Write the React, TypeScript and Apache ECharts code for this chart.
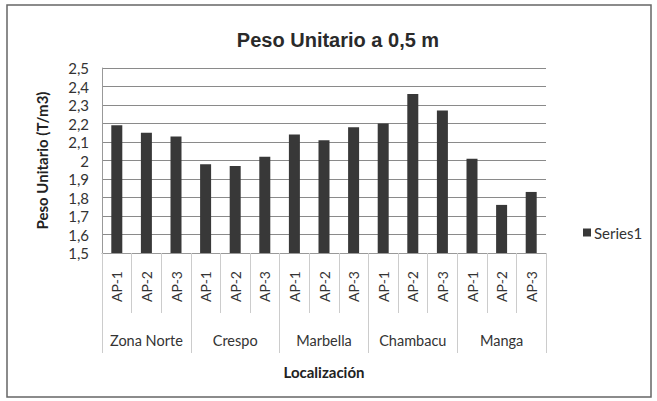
import React, { useEffect, useRef } from "react";
import * as echarts from "echarts";

const points = ["AP-1", "AP-2", "AP-3", "AP-1", "AP-2", "AP-3", "AP-1", "AP-2", "AP-3", "AP-1", "AP-2", "AP-3", "AP-1", "AP-2", "AP-3"];
const groups = ["Zona Norte", "Crespo", "Marbella", "Chambacu", "Manga"];
const values = [2.19, 2.15, 2.13, 1.98, 1.97, 2.02, 2.14, 2.11, 2.18, 2.2, 2.36, 2.27, 2.01, 1.76, 1.83];

const FONT = "Lato, 'Open Sans', sans-serif";

export default function App() {
  const ref = useRef<HTMLDivElement>(null);
  useEffect(() => {
    const chart = echarts.init(ref.current!, undefined, { renderer: "svg" });
    chart.setOption({
      animation: false,
      backgroundColor: "#ffffff",
      textStyle: { fontFamily: FONT },
      title: {
        text: "Peso Unitario a 0,5 m",
        left: 333,
        textAlign: "center",
        top: 25,
        textStyle: { fontSize: 20, fontWeight: "bold", color: "#2a2a2a", fontFamily: "'Liberation Sans', Arial, sans-serif" },
      },
      legend: {
        data: ["Series1"],
        left: 578,
        top: 220,
        itemWidth: 8,
        itemHeight: 8,
        itemGap: 4,
        icon: "rect",
        textStyle: { fontSize: 15, color: "#333", fontFamily: FONT, padding: [0, 0, 0, -2] },
      },
      grid: { left: 102, right: 111, top: 68, bottom: 148 },
      xAxis: [
        {
          type: "category",
          data: points,
          position: "bottom",
          axisLine: { show: true, lineStyle: { color: "#999" } },
          axisTick: { show: true, interval: 0, length: 60, lineStyle: { color: "#ccc" } },
          axisLabel: { interval: 0, rotate: 90, margin: 18, fontSize: 14, color: "#333", fontFamily: FONT },
        },
        {
          type: "category",
          data: groups,
          position: "bottom",
          axisLine: { show: false },
          axisTick: { show: true, interval: 0, length: 100, lineStyle: { color: "#ccc" } },
          axisLabel: { interval: 0, margin: 80, fontSize: 14.5, color: "#333", fontFamily: FONT },
          name: "Localización",
          nameLocation: "middle",
          nameGap: 111,
          nameTextStyle: { fontSize: 15, fontWeight: "bold", color: "#222", fontFamily: FONT },
        },
      ],
      yAxis: {
        type: "value",
        min: 1.5,
        max: 2.5,
        interval: 0.1,
        name: "Peso Unitario (T/m3)",
        nameLocation: "middle",
        nameGap: 53,
        nameTextStyle: { fontSize: 15, fontWeight: "bold", color: "#222", fontFamily: FONT },
        axisLine: { show: true, lineStyle: { color: "#999" } },
        axisTick: { show: false },
        axisLabel: {
          fontSize: 15,
          color: "#333",
          margin: 13,
          fontFamily: FONT,
          formatter: (v: number) => String(Number(v.toFixed(1))).replace(".", ","),
        },
        splitLine: { show: true, lineStyle: { color: "#8a8a8a" } },
      },
      series: [
        {
          name: "Series1",
          type: "bar",
          data: values,
          barWidth: 11,
          itemStyle: { color: "#383838" },
        },
      ],
      graphic: [
        {
          type: "rect",
          shape: { x: 7, y: 5, width: 644, height: 392 },
          style: { fill: "none", stroke: "#666", lineWidth: 1.5 },
          silent: true,
        },
      ],
    });
    return () => chart.dispose();
  }, []);
  return (
    <div style={{ position: "absolute", left: 0, top: 0, width: 657, height: 401 }}>
      <div ref={ref} style={{ width: 657, height: 401 }} />
    </div>
  );
}
